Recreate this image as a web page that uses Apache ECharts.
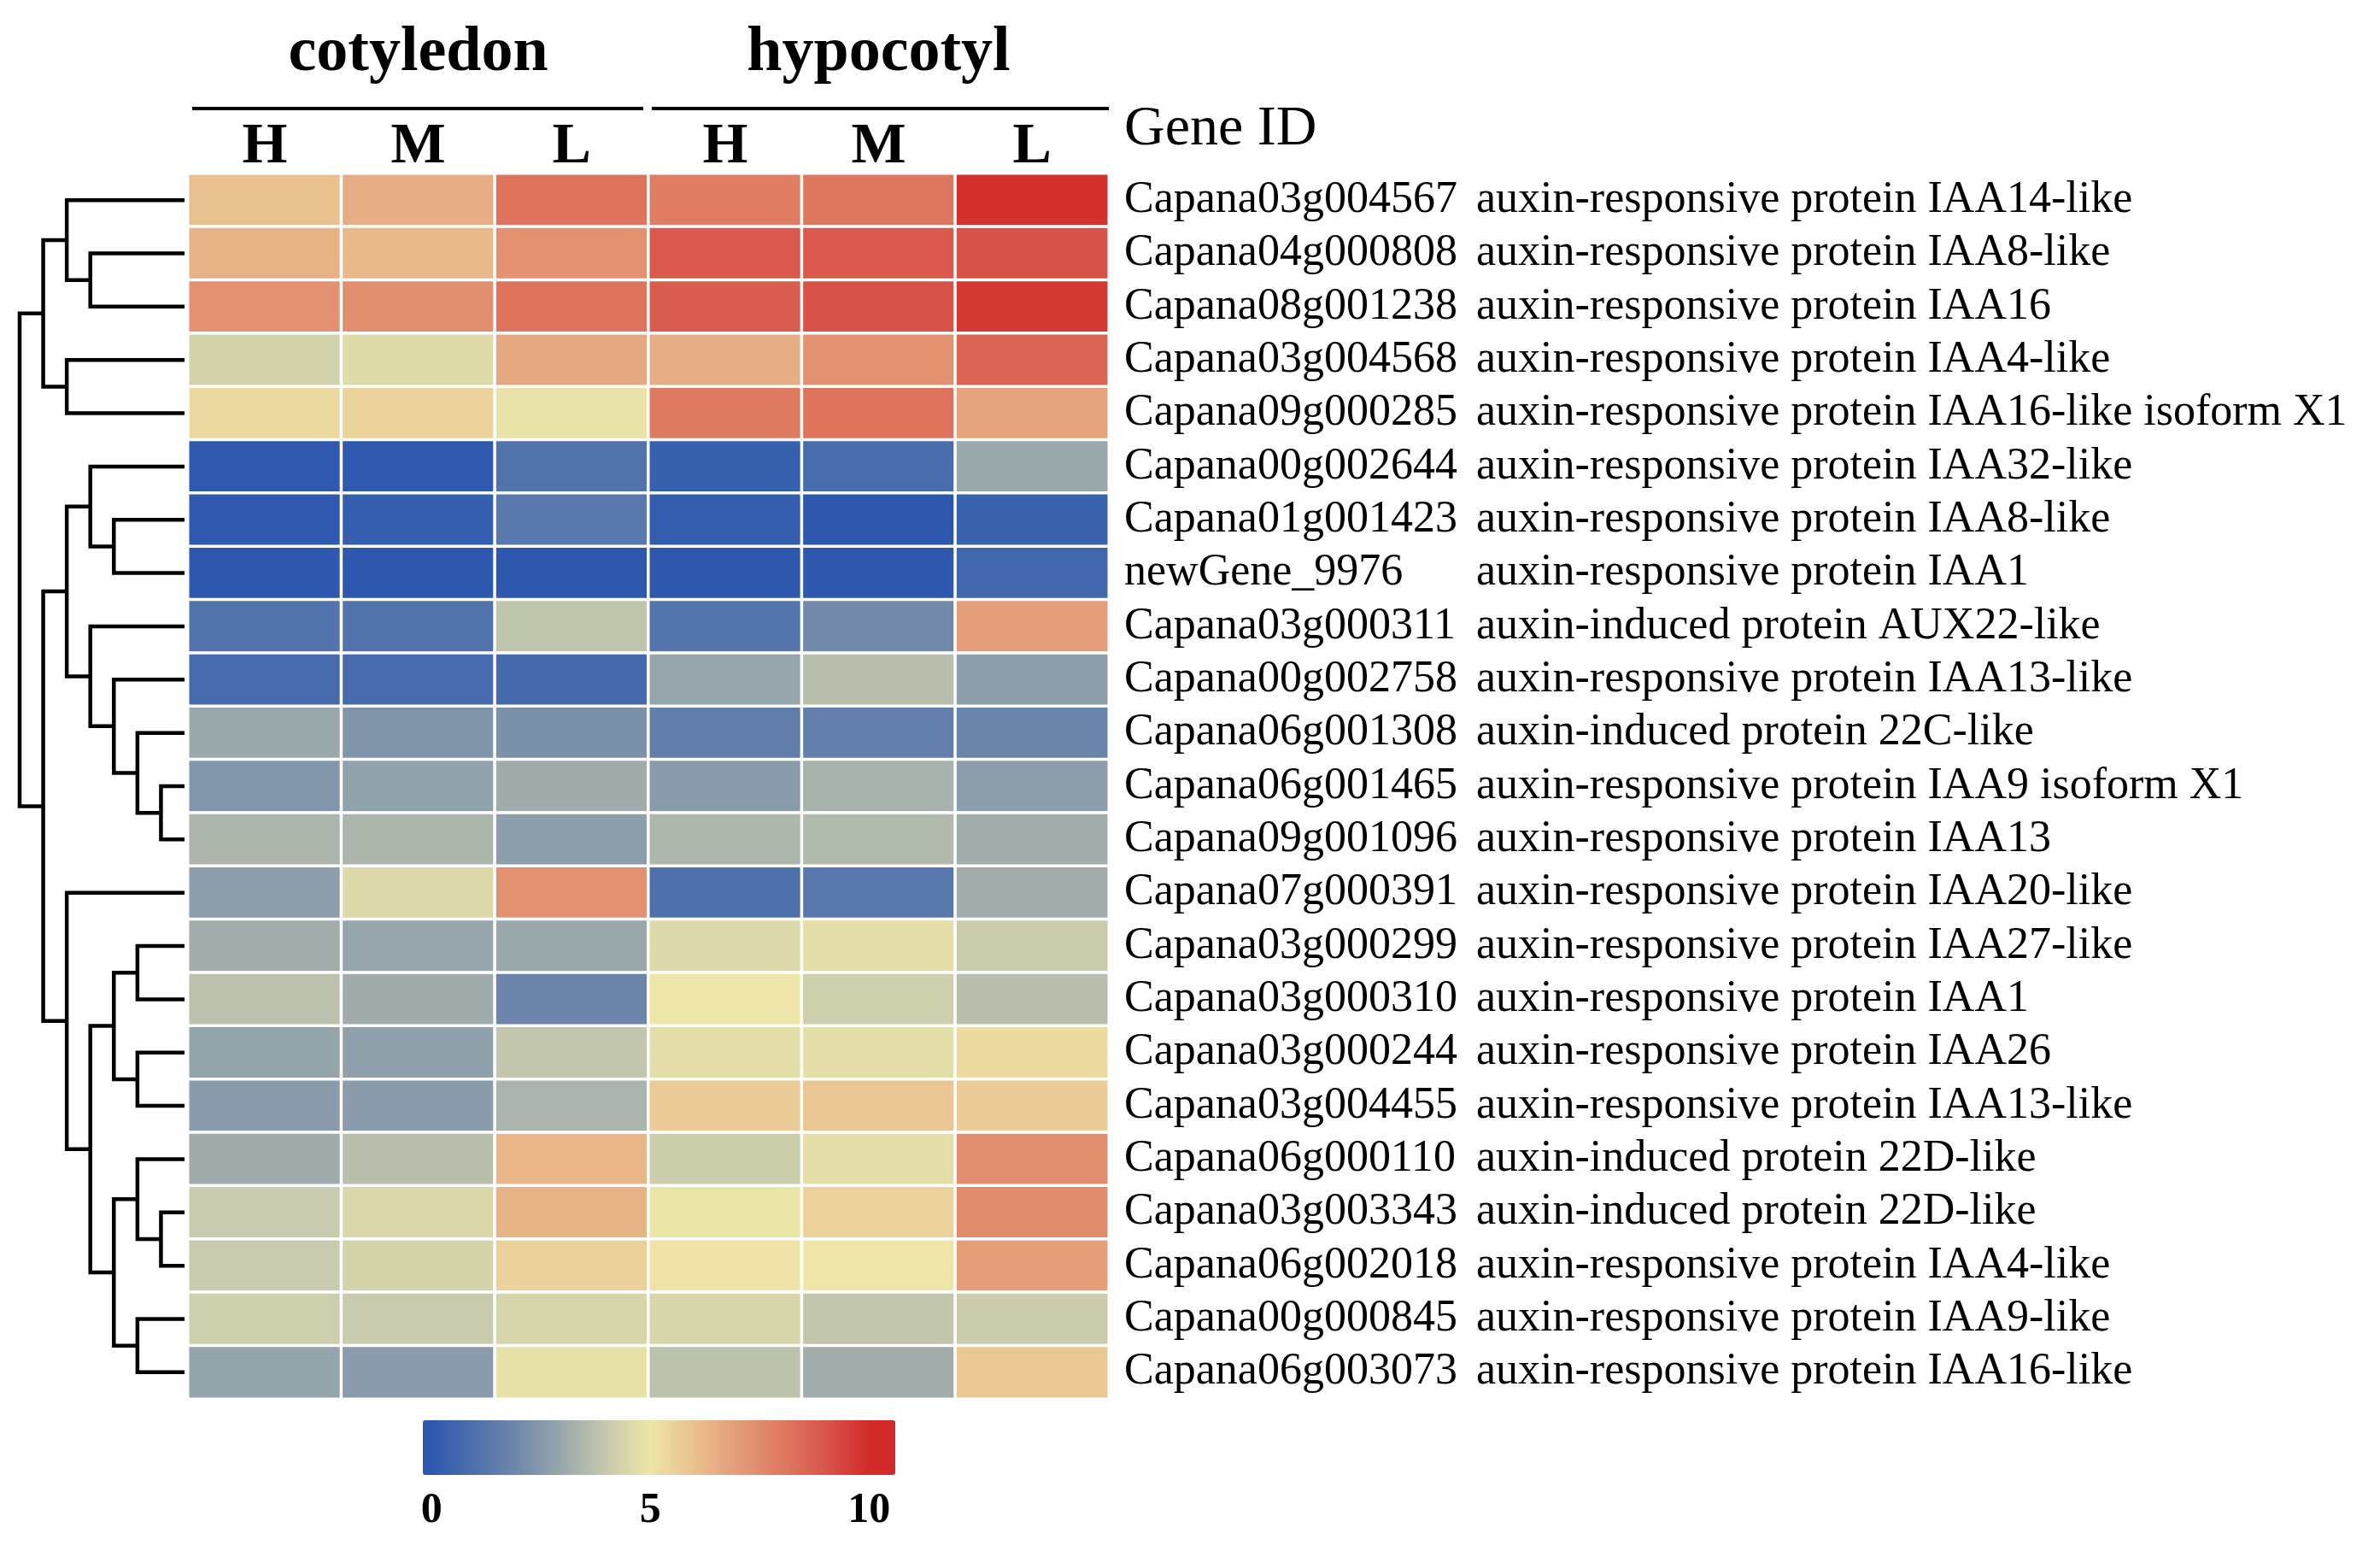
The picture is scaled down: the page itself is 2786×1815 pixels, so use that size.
<!DOCTYPE html>
<html><head><meta charset="utf-8">
<script src="https://cdn.jsdelivr.net/npm/echarts@6/dist/echarts.min.js"></script>
<style>html,body{margin:0;padding:0;background:#fff}#c{width:2786px;height:1815px}</style>
</head><body><div id="c"></div>
<script>
const geneIds = ['Capana03g004567','Capana04g000808','Capana08g001238','Capana03g004568','Capana09g000285',
  'Capana00g002644','Capana01g001423','newGene_9976','Capana03g000311','Capana00g002758','Capana06g001308',
  'Capana06g001465','Capana09g001096','Capana07g000391','Capana03g000299','Capana03g000310','Capana03g000244',
  'Capana03g004455','Capana06g000110','Capana03g003343','Capana06g002018','Capana00g000845','Capana06g003073'];
const descriptions = ['auxin-responsive protein IAA14-like','auxin-responsive protein IAA8-like','auxin-responsive protein IAA16',
  'auxin-responsive protein IAA4-like','auxin-responsive protein IAA16-like isoform X1','auxin-responsive protein IAA32-like',
  'auxin-responsive protein IAA8-like','auxin-responsive protein IAA1','auxin-induced protein AUX22-like',
  'auxin-responsive protein IAA13-like','auxin-induced protein 22C-like','auxin-responsive protein IAA9 isoform X1',
  'auxin-responsive protein IAA13','auxin-responsive protein IAA20-like','auxin-responsive protein IAA27-like',
  'auxin-responsive protein IAA1','auxin-responsive protein IAA26','auxin-responsive protein IAA13-like',
  'auxin-induced protein 22D-like','auxin-induced protein 22D-like','auxin-responsive protein IAA4-like',
  'auxin-responsive protein IAA9-like','auxin-responsive protein IAA16-like'];
const sampleLabels = ['H','M','L','H','M','L'];
const tissueLabels = ['cotyledon','hypocotyl'];
const headerLabel = 'Gene ID';
const cotH = [6.0,6.4,7.3,4.3,5.3,0.05,0.05,0,1.1,0.75,3.0,2.4,3.4,2.65,3.15,3.75,2.85,2.6,3.1,4.05,4.05,4.2,2.85];
const cotM = [6.5,6.2,7.4,4.65,5.5,0.05,0.25,0,1.1,0.75,2.35,2.8,3.4,4.55,2.9,3.1,2.75,2.6,3.7,4.5,4.35,4.05,2.6];
const cotL = [8.2,7.3,8.2,6.7,4.9,1.1,1.3,0,3.85,0.7,2.25,3.1,2.7,7.3,3.0,1.85,3.9,3.35,6.3,6.35,5.55,4.4,4.8];
const hypH = [7.9,8.9,8.8,6.5,8.0,0.3,0.2,0,1.15,2.9,1.55,2.6,3.45,1.05,4.55,5.0,4.75,5.7,4.15,4.95,5.1,4.4,3.8];
const hypM = [8.1,8.9,9.1,7.3,8.2,0.85,0,0,2.0,3.7,1.6,3.3,3.55,1.3,4.75,4.2,4.75,5.85,4.75,5.5,5.0,3.9,3.15];
const hypL = [9.9,9.1,9.7,8.6,6.8,3.0,0.4,0.65,7.0,2.7,1.8,2.65,3.15,3.15,4.1,3.7,5.3,5.7,7.4,7.5,6.95,4.1,5.8];
const colorTicks = [0,5,10];
// dendrogram merges: [node id, left child, right child, merge height]; numbers are row indices
const dendroMerges = [
  ['a',1,2,4],['b',0,'a',5],['c',3,4,5],['d','b','c',6],
  ['e',6,7,3],['f',5,'e',4],['g',11,12,1],['h',10,'g',2],['i',9,'h',3],['j',8,'i',4],['k','f','j',5],
  ['l',14,15,2],['m',16,17,2],['n','l','m',3],['o',19,20,1],['p',18,'o',2],['q',21,22,2],['r','p','q',3],
  ['s','n','r',4],['t',13,'s',5],['u','k','t',6],['root','d','u',7]
];

const FONT = '"Liberation Serif","Times New Roman",serif';
const columns = [cotH, cotM, cotL, hypH, hypM, hypL];
const heatData = [];
columns.forEach((col, x) => col.forEach((v, y) => heatData.push([x, y, v])));

const pos = {}, ht = {};
geneIds.forEach((g, i) => { pos[i] = i; ht[i] = 0; });
const links = dendroMerges.map(([id, a, b, h]) => {
  const item = [pos[a], pos[b], h, ht[a], ht[b]];
  pos[id] = (pos[a] + pos[b]) / 2; ht[id] = h;
  return item;
});

// colour ramp (style)
const anchors = ['#2D58AE','#4E70AC','#7289AA','#9AA8AB','#C6C9AD','#EEE6A8','#E9C090','#E39D78','#DE7A62','#D8564A','#D22A28'];
function hex2rgb(h){return [1,3,5].map(i=>parseInt(h.substr(i,2),16));}
function colorAt(v){
  v = Math.max(0, Math.min(10, v));
  const i = Math.min(9, Math.floor(v)), t = v - i;
  const a = hex2rgb(anchors[i]), b = hex2rgb(anchors[i+1]);
  return 'rgb(' + a.map((c,k)=>Math.round(c+(b[k]-c)*t)).join(',') + ')';
}
const VMIN = -0.2, VMAX = 10.6;
const ramp = [];
for (let k = 0; k <= 54; k++) ramp.push(colorAt(VMIN + k * 0.2));

const chart = echarts.init(document.getElementById('c'));
chart.setOption({
  animation: false,
  backgroundColor: '#fff',
  textStyle: { fontFamily: FONT, color: '#000' },
  grid: [
    { left: 220, top: 203, width: 1078, height: 1434 },
    { left: 23, top: 203, width: 193, height: 1434 },
    { left: 495, top: 1726, width: 553, height: 1 },
    { left: 220, top: 100, width: 1078, height: 1 }
  ],
  xAxis: [
    { gridIndex: 0, type: 'category', data: sampleLabels, position: 'top',
      axisLine: { show: false }, axisTick: { show: false }, splitLine: { show: false },
      axisLabel: { interval: 0, fontFamily: FONT, fontSize: 68, fontWeight: 'bold', color: '#000', margin: -3 } },
    { gridIndex: 1, type: 'value', min: 0, max: 7, inverse: true, show: false },
    { gridIndex: 2, type: 'value', min: VMIN, max: VMAX,
      axisLine: { show: false }, axisTick: { show: false }, splitLine: { show: false },
      axisLabel: { customValues: colorTicks, fontFamily: FONT, fontSize: 50, fontWeight: 'bold', color: '#000', margin: 16 } },
    { gridIndex: 3, type: 'category', data: tissueLabels, position: 'top',
      axisLine: { show: false }, axisTick: { show: false }, splitLine: { show: false },
      axisLabel: { interval: 0, fontFamily: FONT, fontSize: 74, fontWeight: 'bold', color: '#000', margin: 0 } }
  ],
  yAxis: [
    { gridIndex: 0, type: 'category', data: geneIds, inverse: true, position: 'right',
      axisLine: { show: false }, axisTick: { show: false }, splitLine: { show: false },
      axisLabel: { interval: 0, margin: 18, color: '#000',
        formatter: (v) => '{id|' + v + '}{desc|' + descriptions[geneIds.indexOf(v)] + '}',
        rich: { id: { width: 412, fontFamily: FONT, fontSize: 52, color: '#000' },
                desc: { fontFamily: FONT, fontSize: 52, color: '#000' } } } },
    { gridIndex: 1, type: 'value', min: -0.5, max: 22.5, inverse: true, show: false },
    { gridIndex: 2, type: 'value', show: false },
    { gridIndex: 3, type: 'value', show: false }
  ],
  visualMap: {
    type: 'continuous', seriesIndex: 0, dimension: 2, min: VMIN, max: VMAX,
    orient: 'horizontal', left: 495, top: 1662, itemWidth: 64, itemHeight: 553,
    calculable: false, text: null, padding: 0, hoverLink: false,
    inRange: { color: ramp }
  },
  series: [
    { type: 'heatmap', xAxisIndex: 0, yAxisIndex: 0, data: heatData,
      itemStyle: { borderColor: '#fff', borderWidth: 3.5 }, emphasis: { disabled: true } },
    { type: 'custom', xAxisIndex: 1, yAxisIndex: 1, data: links, encode: { x: [2,3,4], y: [0,1] },
      renderItem: (params, api) => {
        const yA = api.value(0), yB = api.value(1), h = api.value(2), hA = api.value(3), hB = api.value(4);
        return { type: 'polyline',
          shape: { points: [api.coord([hA, yA]), api.coord([h, yA]), api.coord([h, yB]), api.coord([hB, yB])] },
          style: { stroke: '#000', lineWidth: 4.5, fill: null, lineJoin: 'miter' } };
      } },
    { type: 'scatter', xAxisIndex: 2, yAxisIndex: 2, data: [] },
    { type: 'scatter', xAxisIndex: 3, yAxisIndex: 3, data: [] }
  ],
  graphic: [
    { type: 'line', shape: { x1: 225, y1: 127, x2: 753, y2: 127 }, style: { stroke: '#000', lineWidth: 4 } },
    { type: 'line', shape: { x1: 763, y1: 127, x2: 1298, y2: 127 }, style: { stroke: '#000', lineWidth: 4 } },
    { type: 'text', x: 1316, y: 152, style: { text: headerLabel, font: '66px ' + FONT, fill: '#000', verticalAlign: 'middle', align: 'left' } }
  ]
});
</script></body></html>
